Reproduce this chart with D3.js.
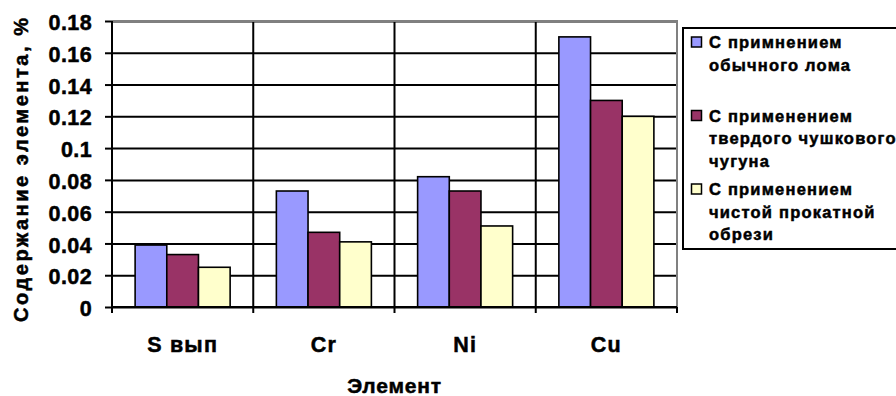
<!DOCTYPE html>
<html><head><meta charset="utf-8">
<script src="https://cdn.jsdelivr.net/npm/d3@7"></script>
<style>
body{margin:0;background:#fff}
text{font-family:"Liberation Sans",Arial,sans-serif;font-weight:bold;fill:#000;stroke:#000;stroke-width:0.5px}
</style>
</head><body>
<svg id="c" width="896" height="396"></svg>
<script>
const categories = ["S вып", "Cr", "Ni", "Cu"];
const seriesKeys = ["obych", "tverd", "chist"];
const seriesLabels = [
  ["С примнением", "обычного лома"],
  ["С применением", "твердого чушкового", "чугуна"],
  ["С применением", "чистой прокатной", "обрези"]
];
const seriesObych = [0.039, 0.073, 0.082, 0.17];
const seriesTverd = [0.033, 0.047, 0.073, 0.13];
const seriesChist = [0.025, 0.041, 0.051, 0.12];
const seriesColors = ["#9999FF", "#993366", "#FFFFCC"];
const yTicks = [0, 0.02, 0.04, 0.06, 0.08, 0.1, 0.12, 0.14, 0.16, 0.18];
const yTickLabels = ["0", "0.02", "0.04", "0.06", "0.08", "0.1", "0.12", "0.14", "0.16", "0.18"];
const xTitle = "Элемент";
const yTitle = "Содержание элемента, %";

const allSeries = [seriesObych, seriesTverd, seriesChist];
const rows = categories.map((c, i) => ({cat: c, vals: seriesKeys.map((k, j) => ({key: k, v: allSeries[j][i], color: seriesColors[j]}))}));

const svg = d3.select("#c");
const L = 112, R = 677, T = 21, B = 307;
const FF = "Liberation Sans, Arial, sans-serif";

const x0 = d3.scaleBand().domain(categories).range([L, R]).padding(0);
const x1 = d3.scaleBand().domain(seriesKeys).range([0, x0.bandwidth()]).paddingInner(0).paddingOuter(0.73);
const y = d3.scaleLinear().domain([0, 0.18]).range([B, T]);

// horizontal gridlines
svg.append("g").attr("transform", `translate(${L},0)`)
  .call(d3.axisLeft(y).tickValues(yTicks).tickSize(-(R - L)).tickFormat(""))
  .call(g => g.select(".domain").remove())
  .call(g => g.selectAll("line").attr("stroke", "#000").attr("stroke-width", 2));

// vertical category boundary lines (incl. ticks below axis)
const bounds = categories.map(c => x0(c)).concat([R]);
svg.append("g").selectAll("line").data(bounds.slice(1, -1)).join("line")
  .attr("x1", d => d).attr("x2", d => d).attr("y1", T).attr("y2", B + 6)
  .attr("stroke", "#000").attr("stroke-width", 2);

// plot border top/right (grey)
svg.append("path").attr("d", `M${L},${T}H${R}V${B}`).attr("fill", "none")
  .attr("stroke", "#808080").attr("stroke-width", 2);

// bars
const groups = svg.append("g").selectAll("g").data(rows).join("g")
  .attr("transform", d => `translate(${x0(d.cat)},0)`);
groups.selectAll("rect").data(d => d.vals).join("rect")
  .attr("x", d => x1(d.key)).attr("width", x1.bandwidth())
  .attr("y", d => y(d.v)).attr("height", d => y(0) - y(d.v))
  .attr("fill", d => d.color).attr("stroke", "#000").attr("stroke-width", 1.6);

// y axis
svg.append("g").attr("transform", `translate(${L},0)`)
  .call(d3.axisLeft(y).tickValues(yTicks).tickSize(7).tickPadding(13)
    .tickFormat((d, i) => yTickLabels[i]))
  .call(g => g.select(".domain").remove())
  .call(g => g.selectAll("line").attr("stroke", "#000").attr("stroke-width", 2))
  .call(g => g.selectAll("text").attr("font-size", 21.5).attr("font-family", FF)
    .attr("font-weight", "bold").style("letter-spacing", "0.4px").attr("dy", "0.4em"));
svg.append("line").attr("x1", L).attr("x2", L).attr("y1", T).attr("y2", B + 6)
  .attr("stroke", "#000").attr("stroke-width", 2);

// x axis
svg.append("g").attr("transform", `translate(0,${B})`)
  .call(d3.axisBottom(x0).tickSize(0).tickPadding(0))
  .call(g => g.select(".domain").remove())
  .call(g => g.selectAll("text").attr("font-size", 21.5).attr("font-family", FF)
    .attr("font-weight", "bold").style("letter-spacing", "1.2px").attr("y", 45).attr("dy", 0));
svg.append("line").attr("x1", L - 1).attr("x2", R).attr("y1", B).attr("y2", B)
  .attr("stroke", "#000").attr("stroke-width", 2);
svg.append("line").attr("x1", R).attr("x2", R).attr("y1", B).attr("y2", B + 6)
  .attr("stroke", "#000").attr("stroke-width", 2);

// axis titles
svg.append("text").attr("x", (L + R) / 2).attr("y", 393).attr("text-anchor", "middle")
  .attr("font-size", 21).style("letter-spacing", "0.8px").text(xTitle);
svg.append("text").attr("transform", "translate(28,170) rotate(-90)").attr("text-anchor", "middle")
  .attr("font-size", 20).attr("textLength", 304).attr("lengthAdjust", "spacing").text(yTitle);

// legend
const lg = svg.append("g");
lg.append("rect").attr("x", 683).attr("y", 28).attr("width", 230).attr("height", 221)
  .attr("fill", "#fff").attr("stroke", "#000").attr("stroke-width", 2);
const ly = d3.scaleLinear().domain([0, 1]).range([48, 121.5]);
seriesKeys.forEach((k, i) => {
  lg.append("rect").attr("x", 691.5).attr("y", ly(i) - 11).attr("width", 10).attr("height", 10)
    .attr("fill", seriesColors[i]).attr("stroke", "#000").attr("stroke-width", 1.5);
  const t = lg.append("text").attr("font-size", 16.5).style("letter-spacing", "1.2px");
  seriesLabels[i].forEach((line, j) => {
    t.append("tspan").attr("x", 709).attr("y", ly(i) + j * 22.5).text(line);
  });
});
</script>
</body></html>
